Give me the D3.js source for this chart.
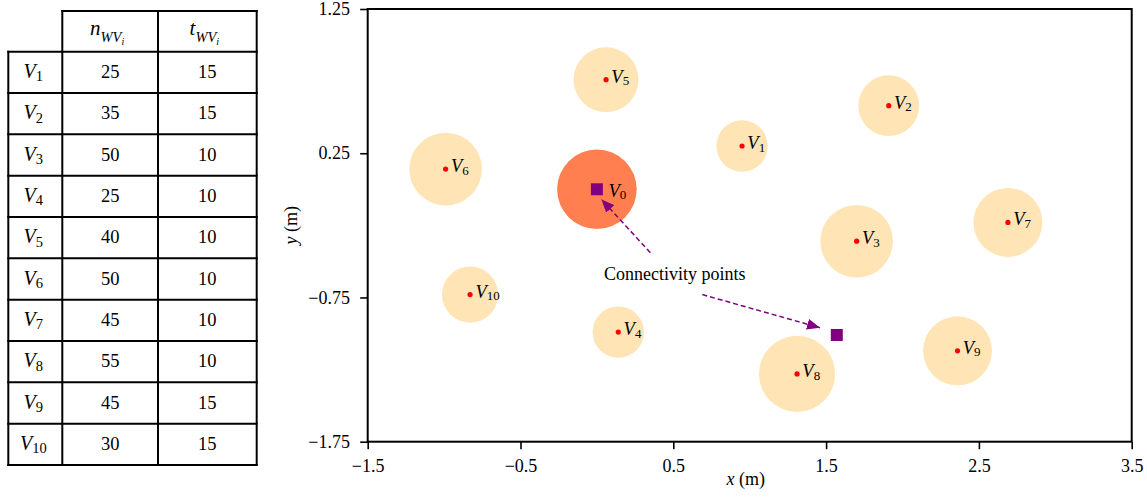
<!DOCTYPE html>
<html>
<head>
<meta charset="utf-8">
<script src="https://cdn.jsdelivr.net/npm/d3@7"></script>
<style>
  html, body { margin: 0; padding: 0; background: #fff; }
  svg { display: block; }
  text { font-family: "Liberation Serif", "Times New Roman", serif; fill: #000; }
</style>
</head>
<body>
<svg id="chart" width="1147" height="503"></svg>
<script>
// ---------------- data ----------------
const vertexIds = [1, 2, 3, 4, 5, 6, 7, 8, 9, 10];
const vertexX   = [0.95, 1.91, 1.70, 0.14, 0.06, -0.99, 2.69, 1.31, 2.36, -0.83];
const vertexY   = [0.30, 0.58, -0.36, -0.99, 0.76, 0.14, -0.23, -1.28, -1.12, -0.73];
const nWV       = [25, 35, 50, 25, 40, 50, 45, 55, 45, 30];
const tWV       = [15, 15, 10, 10, 10, 10, 10, 10, 15, 15];

const depotX = 0.0, depotY = 0.0, depotN = 60;
const connX = [0.0, 1.57];
const connY = [0.0, -1.01];

const arrowFromX = [0.35, 0.69];
const arrowFromY = [-0.44, -0.73];
const arrowToX   = [0.03, 1.46];
const arrowToY   = [-0.07, -0.96];
const annotText = "Connectivity points";
const annotX = 0.51, annotY = -0.63;

const xTicks = [-1.5, -0.5, 0.5, 1.5, 2.5, 3.5];
const yTicks = [1.25, 0.25, -0.75, -1.75];
const xDomain = [-1.5, 3.5];
const yDomain = [-1.75, 1.25];

// ---------------- layout ----------------
const svg = d3.select("#chart");
const plot = { left: 367.7, right: 1131.7, top: 9, bottom: 441.7 };

const x = d3.scaleLinear().domain(xDomain).range([plot.left, plot.right]);
const y = d3.scaleLinear().domain(yDomain).range([plot.bottom, plot.top]);
const r = d3.scaleSqrt().domain([0, 60]).range([0, 39.8]);

const PURPLE = "#800080";

// arrow marker
svg.append("defs").append("marker")
  .attr("id", "head")
  .attr("markerUnits", "userSpaceOnUse")
  .attr("viewBox", "0 -6 13 12")
  .attr("refX", 13).attr("refY", 0)
  .attr("markerWidth", 13).attr("markerHeight", 12)
  .attr("orient", "auto")
  .append("path").attr("d", "M0,-5.5L13,0L0,5.5Z").attr("fill", PURPLE);

const g = svg.append("g");

// big service circles
const verts = vertexIds.map((id, i) => ({ id, x: vertexX[i], y: vertexY[i], n: nWV[i] }));

g.append("circle")
  .attr("cx", x(depotX)).attr("cy", y(depotY)).attr("r", r(depotN))
  .attr("fill", "#FF7F50");

g.selectAll("circle.area").data(verts).join("circle")
  .attr("class", "area")
  .attr("cx", d => x(d.x)).attr("cy", d => y(d.y)).attr("r", d => r(d.n))
  .attr("fill", "#FFE4B5");

// red centre dots
g.selectAll("circle.dot").data(verts).join("circle")
  .attr("class", "dot")
  .attr("cx", d => x(d.x)).attr("cy", d => y(d.y)).attr("r", 2.6)
  .attr("fill", "#FF0000");

// connectivity squares
g.selectAll("rect.conn").data(connX.map((cx, i) => ({ x: cx, y: connY[i] }))).join("rect")
  .attr("class", "conn")
  .attr("x", d => x(d.x) - 6).attr("y", d => y(d.y) - 6)
  .attr("width", 12).attr("height", 12)
  .attr("fill", PURPLE);

// vertex labels
function vLabel(sel, sub, px, py, dx, dy) {
  const t = sel.append("text")
    .attr("x", px + dx).attr("y", py + dy)
    .style("font-size", "18.5px");
  t.append("tspan").style("font-style", "italic").text("V");
  t.append("tspan").attr("dy", 2.6).style("font-size", "13px").text(sub);
}
verts.forEach(d => vLabel(g, d.id, x(d.x), y(d.y), 5.3, 3));
vLabel(g, 0, x(depotX), y(depotY), 11.6, 7.4);

// arrows
arrowFromX.forEach((fx, i) => {
  g.append("line")
    .attr("x1", x(fx)).attr("y1", y(arrowFromY[i]))
    .attr("x2", x(arrowToX[i])).attr("y2", y(arrowToY[i]))
    .attr("stroke", PURPLE).attr("stroke-width", 1.5)
    .attr("stroke-dasharray", "5,3")
    .attr("marker-end", "url(#head)");
});

g.append("text")
  .attr("x", x(annotX)).attr("y", y(annotY))
  .attr("text-anchor", "middle")
  .style("font-size", "18px")
  .text(annotText);

// axes
const xAxis = d3.axisBottom(x).tickValues(xTicks).tickSize(7.5)
  .tickFormat(d3.format(".1f"));
const yAxis = d3.axisLeft(y).tickValues(yTicks).tickSize(7.5)
  .tickFormat(d3.format(".2f"));

const gx = svg.append("g").attr("transform", `translate(0,${plot.bottom})`).call(xAxis);
const gy = svg.append("g").attr("transform", `translate(${plot.left},0)`).call(yAxis);
[gx, gy].forEach(a => {
  a.select(".domain").remove();
  a.selectAll(".tick line").attr("stroke", "#000").attr("stroke-width", 1.6);
  a.selectAll(".tick text").style("font-size", "18px")
    .style("font-family", "'Liberation Serif', serif").attr("fill", "#000");
});
gx.selectAll(".tick text").attr("y", 30).attr("dy", 0);
gy.selectAll(".tick text").attr("x", -17.7).attr("dy", "0.32em");

// frame
svg.append("rect")
  .attr("x", plot.left).attr("y", plot.top)
  .attr("width", plot.right - plot.left).attr("height", plot.bottom - plot.top)
  .attr("fill", "none").attr("stroke", "#000").attr("stroke-width", 2);

// axis titles
const xt = svg.append("text")
  .attr("x", (plot.left + plot.right) / 2 - 4).attr("y", 485)
  .attr("text-anchor", "middle").style("font-size", "18px");
xt.append("tspan").style("font-style", "italic").text("x");
xt.append("tspan").text(" (m)");

const yt = svg.append("text")
  .attr("transform", `translate(297,${(plot.top + plot.bottom) / 2}) rotate(-90)`)
  .attr("text-anchor", "middle").style("font-size", "18px");
yt.append("tspan").style("font-style", "italic").text("y");
yt.append("tspan").text(" (m)");

// ---------------- table ----------------
const tbl = svg.append("g");
const colX = [8.3, 62.3, 158, 256.7];
const headTop = 11, headBot = 51.7, rowH = 41.33;
const nRows = vertexIds.length;
const tblBot = headBot + nRows * rowH;

const lineStyle = s => s.attr("stroke", "#000").attr("stroke-width", 2).attr("stroke-linecap", "square");
lineStyle(tbl.append("line").attr("x1", colX[1]).attr("x2", colX[3]).attr("y1", headTop).attr("y2", headTop));
d3.range(nRows + 1).forEach(k => {
  const yy = headBot + k * rowH;
  lineStyle(tbl.append("line").attr("x1", colX[0]).attr("x2", colX[3]).attr("y1", yy).attr("y2", yy));
});
lineStyle(tbl.append("line").attr("x1", colX[0]).attr("x2", colX[0]).attr("y1", headBot).attr("y2", tblBot));
[1, 2, 3].forEach(c => lineStyle(tbl.append("line").attr("x1", colX[c]).attr("x2", colX[c]).attr("y1", headTop).attr("y2", tblBot)));

function header(sym, cx) {
  const t = tbl.append("text").attr("x", cx).attr("y", 35).attr("text-anchor", "middle")
    .style("font-size", "21px").style("font-style", "italic");
  t.append("tspan").text(sym);
  t.append("tspan").attr("dy", 7).style("font-size", "14.5px").text("WV");
  t.append("tspan").attr("dy", 2.5).style("font-size", "10px").text("i");
}
header("n", (colX[1] + colX[2]) / 2 - 3);
header("t", (colX[2] + colX[3]) / 2 - 3);

vertexIds.forEach((id, i) => {
  const base = headBot + i * rowH + rowH / 2 + 5.5;
  const t = tbl.append("text").attr("x", (colX[0] + colX[1]) / 2 - 2).attr("y", base)
    .attr("text-anchor", "middle").style("font-size", "20px");
  t.append("tspan").style("font-style", "italic").text("V");
  t.append("tspan").attr("dy", 3.5).style("font-size", "14.5px").text(id);
  tbl.append("text").attr("x", (colX[1] + colX[2]) / 2).attr("y", base)
    .attr("text-anchor", "middle").style("font-size", "18.5px").text(nWV[i]);
  tbl.append("text").attr("x", (colX[2] + colX[3]) / 2).attr("y", base)
    .attr("text-anchor", "middle").style("font-size", "18.5px").text(tWV[i]);
});
</script>
</body>
</html>
